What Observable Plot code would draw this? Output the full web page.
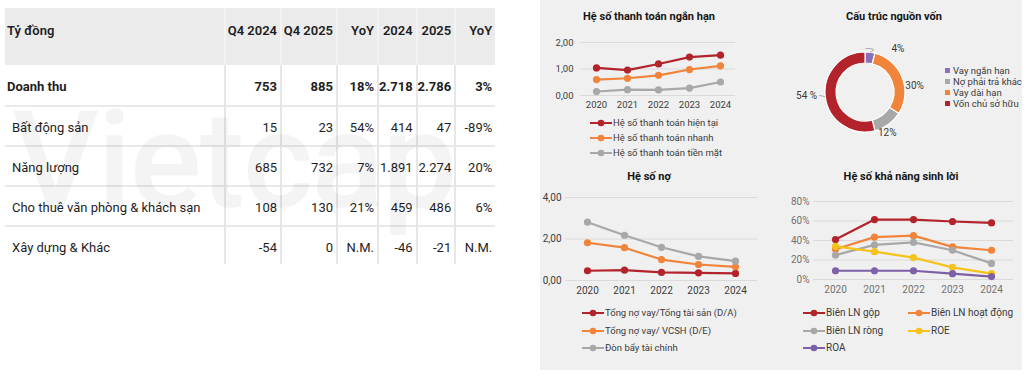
<!DOCTYPE html>
<html><head><meta charset="utf-8">
<script src="https://cdn.jsdelivr.net/npm/d3@7"></script>
<script src="https://cdn.jsdelivr.net/npm/@observablehq/plot@0.6"></script>
<style>
body{margin:0;background:#fff;font-family:Roboto,sans-serif;}
#root{position:relative;width:1029px;height:377px;overflow:hidden;background:#fff;}
.abs{position:absolute;}
#tbl{left:5px;top:8px;border-collapse:collapse;table-layout:fixed;font-size:13px;color:#1e1e1e;}
#tbl td,#tbl th{white-space:nowrap;overflow:visible;padding:3px 3px 0 0;text-align:right;border-left:2px solid #e6e6e6;border-top:2px solid #e9e9e9;box-sizing:content-box;}
#tbl th{background:#ebebeb;font-weight:600;vertical-align:top;padding-top:15px;height:42px;border-left:2px solid #f3f3f3;border-top:none;}
#tbl td.lab,#tbl th.lab{text-align:left;padding-left:2px;border-left:none;}
#tbl td.sub{padding-left:7px;}
#tbl tr.main td{font-weight:700;height:37px;border-top:none;}
#tbl tr.row td{height:35px;}
#tbl tr.last td{height:33px;padding-top:4px;}
#wm{left:5px;top:100px;width:485px;height:162px;overflow:hidden;pointer-events:none;}
#wm span{position:absolute;left:7px;top:-6px;font-size:135px;font-weight:500;color:rgba(0,0,0,0.045);letter-spacing:-2px;line-height:1;}
#panel{left:540px;top:0;width:482px;height:370px;background:#f0f0f0;}
.title{font-weight:700;font-size:11px;color:#151515;transform:translateX(-50%);white-space:nowrap;line-height:14px;}
.lg{display:flex;align-items:center;white-space:nowrap;color:#3a3a3a;line-height:12px;}
.lg svg{flex:none;}
</style></head><body><div id="root"><div id="panel" class="abs"></div></div>
<script>
// ---------- DATA ----------
const tableHeader = ["Tỷ đồng","Q4 2024","Q4 2025","YoY","2024","2025","YoY"];
const rowLabels = ["Doanh thu","Bất động sản","Năng lượng","Cho thuê văn phòng & khách sạn","Xây dựng & Khác"];
const q4_2024 = [753, 15, 685, 108, -54];
const q4_2025 = [885, 23, 732, 130, 0];
const yoyQ = ["18%","54%","7%","21%","N.M."];
const fy2024 = [2718, 414, 1891, 459, -46];
const fy2025 = [2786, 47, 2274, 486, -21];
const yoyFY = ["3%","-89%","20%","6%","N.M."];

const years = ["2020","2021","2022","2023","2024"];

const liqNames = ["Hệ số thanh toán hiện tại","Hệ số thanh toán nhanh","Hệ số thanh toán tiền mặt"];
const liqCurrent = [1.04, 0.96, 1.19, 1.45, 1.52];
const liqQuick = [0.60, 0.65, 0.76, 0.98, 1.12];
const liqCash = [0.15, 0.22, 0.21, 0.28, 0.51];
const liqTicks = [0, 1, 2];

const debtNames = ["Tổng nợ vay/Tổng tài sản (D/A)","Tổng nợ vay/ VCSH (D/E)","Đòn bẩy tài chính"];
const debtDA = [0.47, 0.50, 0.39, 0.37, 0.34];
const debtDE = [1.82, 1.58, 1.01, 0.77, 0.66];
const debtLev = [2.81, 2.18, 1.60, 1.16, 0.93];
const debtTicks = [0, 2, 4];

const profNames = ["Biên LN gộp","Biên LN hoạt động","Biên LN ròng","ROE","ROA"];
const profGross = [41, 61.5, 61.5, 59.5, 58];
const profOper = [31, 43.5, 45, 33.5, 30];
const profNet = [25, 35.5, 38, 30, 16.5];
const profROE = [34, 28.5, 22.5, 12.5, 6];
const profROA = [9, 9, 9, 6, 3];
const profTicks = [0, 20, 40, 60, 80];

const srcNames = ["Vay ngắn hạn","Vay dài hạn","Nợ phải trả khác","Vốn chủ sở hữu"];
const srcShares = [4, 30, 12, 54];
const srcLabels = ["4%","30%","12%","54 %"];
const srcLegendOrder = ["Vay ngắn hạn","Nợ phải trả khác","Vay dài hạn","Vốn chủ sở hữu"];

const cRed = "#b3232b", cOrange = "#f0843a", cGray = "#a8a8a8", cYellow = "#f6c21c", cPurple = "#7d61a8", cPurpleL = "#8a70b8";

// ---------- HELPERS ----------
const root = document.getElementById("root");
function place(el, x, y){ el.classList.add("abs"); el.style.left = x+"px"; el.style.top = y+"px"; root.appendChild(el); return el; }
function title(text, cx, cy){ const d = document.createElement("div"); d.className="title"; d.textContent=text; place(d, cx, cy-7); }
const numFmt = d3.formatLocale({decimal:",", thousands:".", grouping:[3], currency:["",""], minus:"-"}).format(",d");
const fmt2 = d => d.toFixed(2).replace(".", ",");

// ---------- TABLE ----------
(function(){
  const t = document.createElement("table"); t.id="tbl";
  const widths = [220,56,56,41,35,37,40];
  const cg = document.createElement("colgroup");
  widths.forEach(w=>{const c=document.createElement("col"); c.style.width=w+"px"; cg.appendChild(c);});
  t.appendChild(cg);
  const hr = document.createElement("tr");
  tableHeader.forEach((h,i)=>{const th=document.createElement("th"); th.textContent=h; if(i===0) th.className="lab"; hr.appendChild(th);});
  t.appendChild(hr);
  rowLabels.forEach((lab,i)=>{
    const tr = document.createElement("tr");
    tr.className = i===0 ? "main" : (i===rowLabels.length-1 ? "row last" : "row");
    const vals = [lab, numFmt(q4_2024[i]), numFmt(q4_2025[i]), yoyQ[i], numFmt(fy2024[i]), numFmt(fy2025[i]), yoyFY[i]];
    vals.forEach((v,j)=>{const td=document.createElement("td"); td.textContent=v; if(j===0) td.className = i===0 ? "lab" : "lab sub"; tr.appendChild(td);});
    t.appendChild(tr);
  });
  place(t, 5, 8);
  const wm = document.createElement("div"); wm.id="wm"; wm.innerHTML="<span>Vietcap</span>"; place(wm, 5, 100);
})();

// ---------- LINE CHARTS ----------
function tidy(names, series){ return series.flatMap((s,i)=>years.map((y,j)=>({year:y, value:s[j], series:names[i]}))); }

function lineChart(o){
  const data = tidy(o.names, o.series);
  const chart = Plot.plot({
    width:o.width, height:o.height,
    marginLeft:o.mL, marginRight:o.mR, marginTop:o.mT, marginBottom:o.mB,
    style:{background:"transparent", fontFamily:"Roboto", fontSize:o.fontSize, color:o.tickColor, overflow:"visible"},
    x:{type:"point", domain:years, padding:o.pad},
    y:{domain:[o.ticks[0], o.ticks[o.ticks.length-1]]},
    color:{domain:o.names, range:o.colors},
    marks:[
      Plot.gridY({ticks:o.ticks, stroke:"#dadada", strokeOpacity:1}),
      Plot.axisY({ticks:o.ticks, tickSize:0, tickPadding:o.yPad, tickFormat:o.fmt, label:null}),
      Plot.axisX({tickSize:0, tickPadding:6, label:null}),
      Plot.line(data, {x:"year", y:"value", stroke:"series", z:"series", strokeWidth:2.2}),
      Plot.dot(data, {x:"year", y:"value", fill:"series", r:3.6})
    ]
  });
  place(chart, o.left, o.top);
  const scale = Plot.scale({color:{domain:o.names, range:o.colors}});
  o.names.forEach((n,i)=>{
    const col = o.legendCols ? o.legendCols[i] : 0;
    const row = o.legendRows ? o.legendRows[i] : i;
    const d = document.createElement("div"); d.className="lg"; d.style.fontSize=o.legendFont;
    const c = scale.apply(n);
    d.innerHTML = `<svg width="22" height="8"><line x1="0" x2="22" y1="4" y2="4" stroke="${c}" stroke-width="2"/><circle cx="11" cy="4" r="3.3" fill="${c}"/></svg><span style="margin-left:1px">${n}</span>`;
    place(d, o.legendX[col], o.legendY + row*o.legendGap - 6);
  });
}

title("Hệ số thanh toán ngắn hạn", 649, 17);
lineChart({names:liqNames, series:[liqCurrent, liqQuick, liqCash], colors:[cRed,cOrange,cGray],
  ticks:liqTicks, fmt:fmt2, left:540, top:30, width:205, height:85, mL:40, mR:10, mT:12, mB:20, pad:0.5, yPad:7,
  fontSize:"9.5px", tickColor:"#3c3c3c", legendX:[590], legendY:123, legendGap:15, legendFont:"9.5px"});

title("Hệ số nợ", 649, 177);
lineChart({names:debtNames, series:[debtDA, debtDE, debtLev], colors:[cRed,cOrange,cGray],
  ticks:debtTicks, fmt:fmt2, left:540, top:185, width:225, height:115, mL:25, mR:8, mT:12, mB:20, pad:0.54, yPad:4,
  fontSize:"10px", tickColor:"#3c3c3c", legendX:[582], legendY:313, legendGap:17.5, legendFont:"9.5px"});

title("Hệ số khả năng sinh lời", 901, 177);
lineChart({names:profNames, series:[profGross, profOper, profNet, profROE, profROA], colors:[cRed,cOrange,cGray,cYellow,cPurple],
  ticks:profTicks, fmt:d=>d+"%", left:780, top:188, width:240, height:111, mL:33, mR:7, mT:13, mB:20, pad:0.53, yPad:4,
  fontSize:"10px", tickColor:"#707070", legendX:[803,908], legendCols:[0,1,0,1,0], legendRows:[0,0,1,1,2],
  legendY:313, legendGap:17.5, legendFont:"10px"});

// ---------- DONUT ----------
title("Cấu trúc nguồn vốn", 894, 17);
(function(){
  const srcColor = Plot.scale({color:{domain:srcNames, range:[cPurpleL, cOrange, cGray, cRed]}});
  const data = srcNames.map((n,i)=>({name:n, share:srcShares[i], label:srcLabels[i]}));
  const W = 160, H = 110, R = 40, r = 29;
  const labelStyle = {
    "Vay ngắn hạn": {da:24, rr:51, leader:true},
    "Vay dài hạn": {da:14, rr:50, leader:false},
    "Nợ phải trả khác": {da:7, rr:46, leader:false},
    "Vốn chủ sở hữu": {da:4, rr:64, leader:true}
  };
  const donutMark = (index, scales, values, dims) => {
    const w = dims ? dims.width : W, h = dims ? dims.height : H;
    const g = d3.create("svg:g").attr("transform", `translate(${w/2},${h/2})`);
    const arcs = d3.pie().sort(null).value(d=>d.share)(data);
    const arc = d3.arc().innerRadius(r).outerRadius(R);
    g.selectAll("path").data(arcs).join("path")
      .attr("d", arc).attr("fill", d=>srcColor.apply(d.data.name))
      .attr("stroke", "#fff").attr("stroke-width", 1.2);
    arcs.forEach(a=>{
      const st = labelStyle[a.data.name];
      const mid = (a.startAngle + a.endAngle)/2;
      const ang = mid + st.da*Math.PI/180;
      const lx = Math.sin(ang)*st.rr, ly = -Math.cos(ang)*st.rr;
      const isLeft = lx < 0;
      if (st.leader){
        const ex = Math.sin(mid)*R, ey = -Math.cos(mid)*R;
        const tx = isLeft ? lx + 18 : lx - 3, ty = ly;
        g.append("path").attr("d", `M${ex},${ey}Q${(ex+tx)/2},${ty}${tx},${ty}`)
          .attr("fill","none").attr("stroke","#9a9a9a").attr("stroke-width",0.8);
      }
      g.append("text").attr("x", isLeft ? lx + 16 : lx).attr("y", ly).attr("dy","0.35em")
        .attr("text-anchor", isLeft ? "end" : (st.leader ? "start" : "middle"))
        .attr("font-size", 10).attr("fill", "#3a3a3a").text(a.data.label);
    });
    return g.node();
  };
  const chart = Plot.plot({width:W, height:H, margin:0,
    style:{background:"transparent", fontFamily:"Roboto", overflow:"visible"},
    marks:[donutMark]});
  place(chart, 785, 37);
  srcLegendOrder.forEach((n,i)=>{
    const d = document.createElement("div"); d.className="lg"; d.style.fontSize="9.5px";
    d.innerHTML = `<svg width="5" height="5"><rect width="5" height="5" fill="${srcColor.apply(n)}"/></svg><span style="margin-left:3px">${n}</span>`;
    place(d, 945, 70.5 + i*11 - 6);
  });
})();
</script></body></html>
